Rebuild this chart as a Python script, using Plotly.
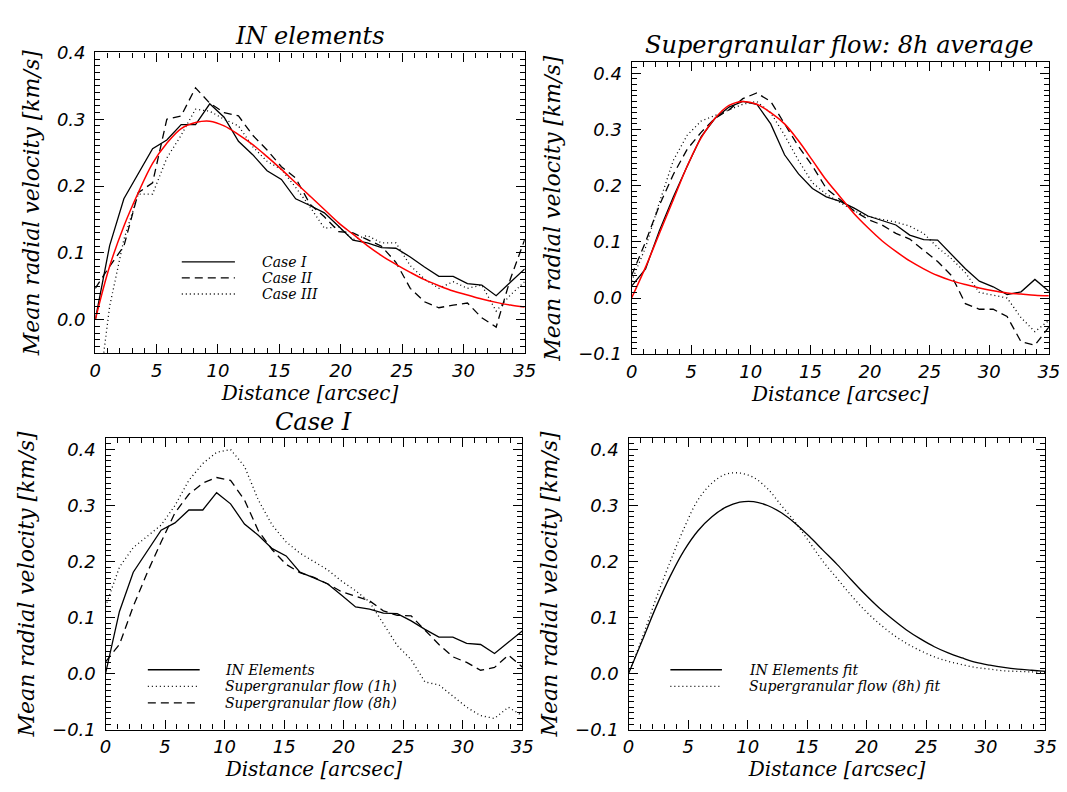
import plotly.graph_objects as go
from plotly.subplots import make_subplots

# ---------------- data ----------------
distance = [0.0, 1.17, 2.33, 3.5, 4.67, 5.83, 7.0, 8.17, 9.33, 10.5,
            11.67, 12.83, 14.0, 15.17, 16.33, 17.5, 18.67, 19.83, 21.0, 22.17,
            23.33, 24.5, 25.67, 26.83, 28.0, 29.17, 30.33, 31.5, 32.67, 33.83, 35.0]

# Panel 1: IN elements
in_case1 = [0.0, 0.111, 0.181, 0.218, 0.256, 0.269, 0.292, 0.292, 0.323, 0.303,
            0.267, 0.247, 0.223, 0.21, 0.181, 0.171, 0.16, 0.14, 0.119, 0.115,
            0.108, 0.107, 0.094, 0.079, 0.065, 0.065, 0.054, 0.052, 0.036, 0.056, 0.076]
in_case2 = [0.047, 0.08, 0.11, 0.19, 0.205, 0.30, 0.305, 0.347, 0.324, 0.31,
            0.305, 0.276, 0.254, 0.229, 0.212, 0.173, 0.154, 0.132, 0.13, 0.12,
            0.11, 0.086, 0.047, 0.027, 0.018, 0.022, 0.025, 0.003, -0.011, 0.061, 0.12]
in_case3 = [-0.15, 0.02, 0.12, 0.188, 0.188, 0.242, 0.276, 0.315, 0.312, 0.30,
            0.29, 0.259, 0.237, 0.225, 0.198, 0.169, 0.137, 0.139, 0.12, 0.126,
            0.115, 0.115, 0.081, 0.061, 0.047, 0.057, 0.047, 0.052, 0.013, 0.037, 0.057]
in_fit = [0.0, 0.08, 0.14, 0.19, 0.234, 0.264, 0.286, 0.295, 0.297, 0.29,
          0.277, 0.262, 0.244, 0.225, 0.205, 0.185, 0.165, 0.145, 0.128, 0.111,
          0.096, 0.083, 0.071, 0.06, 0.051, 0.043, 0.037, 0.031, 0.026, 0.022, 0.019]

# Panel 2: Supergranular flow, 8h average
sg8_case1 = [0.021, 0.052, 0.12, 0.18, 0.235, 0.287, 0.32, 0.34, 0.35, 0.345,
             0.31, 0.255, 0.221, 0.195, 0.18, 0.172, 0.16, 0.146, 0.138, 0.13,
             0.112, 0.104, 0.103, 0.078, 0.052, 0.03, 0.02, 0.006, 0.011, 0.033, 0.012]
sg8_case2 = [0.04, 0.1, 0.165, 0.22, 0.265, 0.295, 0.32, 0.335, 0.355, 0.365,
             0.35, 0.31, 0.27, 0.235, 0.195, 0.175, 0.155, 0.14, 0.13, 0.115,
             0.105, 0.085, 0.065, 0.04, -0.01, -0.02, -0.02, -0.033, -0.078, -0.084, -0.052]
sg8_case3 = [0.03, 0.09, 0.17, 0.245, 0.29, 0.315, 0.325, 0.335, 0.345, 0.35,
             0.33, 0.29, 0.245, 0.205, 0.185, 0.17, 0.155, 0.145, 0.14, 0.135,
             0.128, 0.115, 0.09, 0.07, 0.045, 0.01, 0.005, 0.0, -0.035, -0.06, -0.04]
sg8_fit = [0.0, 0.055, 0.115, 0.175, 0.235, 0.285, 0.32, 0.343, 0.35, 0.345,
           0.33, 0.31, 0.28, 0.245, 0.21, 0.18, 0.15, 0.125, 0.102, 0.083,
           0.066, 0.052, 0.04, 0.031, 0.024, 0.018, 0.013, 0.009, 0.007, 0.005, 0.004]

# Panel 3: Case I comparison
sg1_case1 = [0.12, 0.19, 0.225, 0.245, 0.265, 0.30, 0.345, 0.375, 0.395, 0.40,
             0.37, 0.31, 0.265, 0.235, 0.215, 0.20, 0.185, 0.165, 0.148, 0.128,
             0.09, 0.05, 0.025, -0.015, -0.02, -0.04, -0.06, -0.075, -0.08, -0.06, -0.075]

# Panel 4: fits
in_fit4 = [0.0, 0.06, 0.12, 0.174, 0.22, 0.255, 0.28, 0.297, 0.306, 0.307,
           0.3, 0.287, 0.268, 0.245, 0.22, 0.195, 0.168, 0.142, 0.118, 0.097,
           0.078, 0.062, 0.048, 0.037, 0.028, 0.02, 0.015, 0.011, 0.008, 0.006, 0.004]
sg8_fit4 = [0.0, 0.065, 0.135, 0.2, 0.26, 0.31, 0.34, 0.356, 0.358, 0.35,
            0.33, 0.3, 0.27, 0.235, 0.2, 0.17, 0.14, 0.113, 0.09, 0.07,
            0.054, 0.041, 0.03, 0.022, 0.016, 0.011, 0.008, 0.005, 0.004, 0.003, 0.002]

panel_titles = ["IN elements", "Supergranular flow: 8h average", "Case I", ""]
x_title = "Distance [arcsec]"
y_title = "Mean radial velocity [km/s]"
legend1 = ["Case I", "Case II", "Case III"]
legend3 = ["IN Elements", "Supergranular flow (1h)", "Supergranular flow (8h)"]
legend4 = ["IN Elements fit", "Supergranular flow (8h) fit"]

# ---------------- styling ----------------
W, H = 1067, 792
SERIF = "DejaVu Serif"
SANS = "DejaVu Sans"
BLACK = "black"
RED = "#ff0000"
SOLID = dict(color=BLACK, width=1.3)
DASH = dict(color=BLACK, width=1.3, dash="8px,5px")
DOT = dict(color=BLACK, width=1.3, dash="1px,3px")
REDL = dict(color=RED, width=1.5)

fig = make_subplots(rows=2, cols=2)

def add(row, col, y, line, name, shape="linear"):
    fig.add_trace(go.Scatter(x=distance, y=y, mode="lines", line=dict(line, shape=shape),
                             name=name, showlegend=False), row=row, col=col)

add(1, 1, in_case1, SOLID, legend1[0])
add(1, 1, in_case2, DASH, legend1[1])
add(1, 1, in_case3, DOT, legend1[2])
add(1, 1, in_fit, REDL, "fit", "spline")

add(1, 2, sg8_case1, SOLID, "Case I")
add(1, 2, sg8_case2, DASH, "Case II")
add(1, 2, sg8_case3, DOT, "Case III")
add(1, 2, sg8_fit, REDL, "fit", "spline")

add(2, 1, in_case1, SOLID, legend3[0])
add(2, 1, sg1_case1, DOT, legend3[1])
add(2, 1, sg8_case1, DASH, legend3[2])

add(2, 2, in_fit4, SOLID, legend4[0], "spline")
add(2, 2, sg8_fit4, DOT, legend4[1], "spline")

def px(x0, x1):
    return [x0 / W, x1 / W]

def py(top, bottom):
    return [1 - bottom / H, 1 - top / H]

geom = {
    1: dict(x=px(82.6, 519.0), y=py(34.3, 343.3), yr=[-0.05, 0.4]),
    2: dict(x=px(627.6, 1051.6), y=py(44.3, 344.3), yr=[-0.1, 0.42]),
    3: dict(x=px(93.0, 516.5), y=py(430.7, 730.0), yr=[-0.1, 0.42]),
    4: dict(x=px(624.5, 1048.2), y=py(430.7, 730.0), yr=[-0.1, 0.42]),
}

for i in range(1, 5):
    g = geom[i]
    sfx = "" if i == 1 else str(i)
    fig.layout["xaxis" + sfx].update(
        domain=g["x"], range=[0, 35], tick0=0, dtick=5, ticks="inside", ticklen=9,
        tickwidth=1, tickcolor=BLACK, showline=True, linecolor=BLACK, linewidth=1.3,
        mirror="allticks", showgrid=False, zeroline=False,
        minor=dict(dtick=1, ticks="inside", ticklen=5, tickcolor=BLACK, showgrid=False),
        tickfont=dict(family=SANS, size=18, color=BLACK, style="italic"),
        title=dict(text=x_title, font=dict(family=SERIF, size=20, color=BLACK, style="italic"),
                   standoff=0),
        ticklabelstandoff=1,
    )
    fig.layout["yaxis" + sfx].update(
        domain=g["y"], range=g["yr"], tick0=0, dtick=0.1, tickformat=".1f", ticks="inside",
        ticklen=9, tickwidth=1, tickcolor=BLACK, showline=True, linecolor=BLACK,
        linewidth=1.3, mirror="allticks", showgrid=False, zeroline=False,
        minor=dict(dtick=0.01, ticks="inside", ticklen=5, tickcolor=BLACK, showgrid=False),
        tickfont=dict(family=SANS, size=18, color=BLACK, style="italic"),
        title=dict(text=y_title, font=dict(family=SERIF, size=22, color=BLACK, style="italic"),
                   standoff=11),
        ticklabelstandoff=5,
    )

ann = []
# Panel titles
title_pos = [(301.3, 17), (839, 27), (304.8, 414)]
for t, (xx, yy) in zip(panel_titles[:3], title_pos):
    ann.append(dict(text=t, x=xx / W, y=1 - yy / H, xref="paper", yref="paper",
                    xanchor="center", yanchor="middle", showarrow=False,
                    font=dict(family=SERIF, size=24, color=BLACK, style="italic")))

shapes = []
def legend(entries, styles, x0, x1, xt, rows):
    for name, st, yy in zip(entries, styles, rows):
        yp = 1 - yy / H
        d = dict(type="line", xref="paper", yref="paper", x0=x0 / W, x1=x1 / W,
                 y0=yp, y1=yp, line=dict(color=st["color"], width=st["width"]))
        if "dash" in st:
            d["line"]["dash"] = st["dash"]
        shapes.append(d)
        ann.append(dict(text=name, x=xt / W, y=yp, xref="paper", yref="paper",
                        xanchor="left", yanchor="middle", showarrow=False,
                        font=dict(family=SERIF, size=14, color=BLACK, style="italic")))

legend(legend1, [SOLID, DASH, DOT], 170.5, 224.5, 250.3, [249.5, 266, 282.5])
legend(legend3, [SOLID, DOT, DASH], 136, 188.7, 212.5, [668.5, 685.5, 702.5])
legend(legend4, [SOLID, DOT], 667, 719.4, 744.7, [668.5, 685.5])

fig.update_layout(
    width=W, height=H, margin=dict(l=0, r=0, t=0, b=0),
    paper_bgcolor="white", plot_bgcolor="white",
    annotations=ann, shapes=shapes, showlegend=False,
)

fig.write_html("out.html")
